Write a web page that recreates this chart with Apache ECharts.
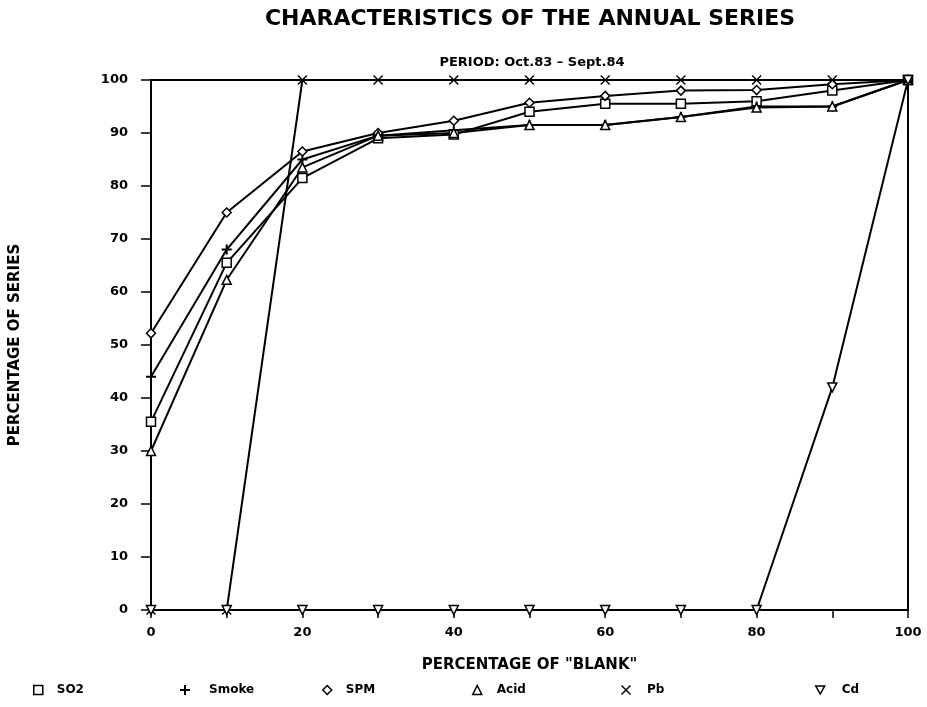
<!DOCTYPE html>
<html>
<head>
<meta charset="utf-8">
<script src="https://cdn.jsdelivr.net/npm/echarts@6/dist/echarts.min.js"></script>
<style>
  html, body { margin: 0; padding: 0; background: #fff; }
  #chart { width: 927px; height: 707px; }
</style>
</head>
<body>
<div id="chart"></div>
<script>
// Percentage of "blank" on the x axis
const blankPct = [0, 10, 20, 30, 40, 50, 60, 70, 80, 90, 100];

// Percentage of series for each pollutant
const so2   = [35.5, 65.5, 81.5, 89.0, 89.7, 94.0, 95.5, 95.5, 96.0, 98.0, 100];
const smoke = [44.0, 68.0, 85.0, 89.5, 90.5, 91.5, 91.5, 93.0, 95.0, 95.0, 100];
const spm   = [52.2, 75.0, 86.5, 90.0, 92.3, 95.7, 97.0, 98.0, 98.1, 99.2, 100];
const acid  = [30.0, 62.3, 83.5, 89.5, 90.0, 91.5, 91.5, 93.0, 94.8, 95.0, 100];
const pb    = [0, 0, 100, 100, 100, 100, 100, 100, 100, 100, 100];
const cd    = [0, 0, 0, 0, 0, 0, 0, 0, 0, 42, 100];

const seriesNames = ['SO2', 'Smoke', 'SPM', 'Acid', 'Pb', 'Cd'];

const FONT = 'DejaVu Sans';
const PLUS  = 'path://M4,0L6,0L6,4L10,4L10,6L6,6L6,10L4,10L4,6L0,6L0,4L4,4Z';
const CROSS = 'path://M0,1L1,0L5,4L9,0L10,1L6,5L10,9L9,10L5,6L1,10L0,9L4,5Z';
const DOWN  = 'path://M0,0L10,0L5,9Z';

const hollow = { color: '#fff', borderColor: '#000', borderWidth: 1.5 };
const solid = { color: '#000', borderColor: '#000', borderWidth: 0 };

const markers = {
  SO2:   { symbol: 'rect', size: 9, style: hollow },
  Smoke: { symbol: PLUS, size: 10, style: solid },
  SPM:   { symbol: 'diamond', size: 9, style: hollow },
  Acid:  { symbol: 'triangle', size: 9, style: hollow },
  Pb:    { symbol: CROSS, size: 10, style: solid },
  Cd:    { symbol: DOWN, size: 9, style: hollow }
};

const values = { SO2: so2, Smoke: smoke, SPM: spm, Acid: acid, Pb: pb, Cd: cd };

function pairs(ys) {
  return blankPct.map((x, i) => [x, ys[i]]);
}

const series = seriesNames.map(name => ({
  name: name,
  type: 'line',
  data: pairs(values[name]),
  symbol: markers[name].symbol,
  symbolSize: markers[name].size,
  showAllSymbol: true,
  clip: false,
  lineStyle: { color: '#000', width: 2 },
  itemStyle: markers[name].style,
  emphasis: { disabled: true },
  animation: false
}));

// One legend block per series so each entry sits at its own place in the row
const legendLeft = [28, 175, 317, 467, 616, 810];
const legendGap = [9, 14, 9, 10, 11, 12];
const legends = seriesNames.map((name, i) => ({
  left: legendLeft[i],
  top: 679,
  itemWidth: markers[name].size,
  itemHeight: markers[name].size,
  data: [{ name: name, icon: markers[name].symbol, itemStyle: markers[name].style }],
  textStyle: { fontFamily: FONT, fontWeight: 'bold', fontSize: 12, color: '#000', padding: [0, 0, 0, legendGap[i]] },
  selectedMode: false
}));

const chart = echarts.init(document.getElementById('chart'), null, { renderer: 'canvas' });
chart.setOption({
  backgroundColor: '#fff',
  animation: false,
  title: [
    {
      text: 'CHARACTERISTICS OF THE ANNUAL SERIES',
      left: 525, top: 3, textAlign: 'center',
      textStyle: { fontFamily: FONT, fontWeight: 'bold', fontSize: 22, color: '#000' }
    },
    {
      text: 'PERIOD: Oct.83 \u2013 Sept.84',
      left: 527, top: 51, textAlign: 'center',
      textStyle: { fontFamily: FONT, fontWeight: 'bold', fontSize: 13, color: '#000' }
    }
  ],
  legend: legends,
  grid: {
    left: 150, right: 19, top: 80, bottom: 97,
    show: true, borderColor: '#000', borderWidth: 2, backgroundColor: 'transparent'
  },
  xAxis: {
    type: 'value', min: 0, max: 100, interval: 10,
    name: 'PERCENTAGE OF "BLANK"', nameLocation: 'middle', nameGap: 48,
    nameTextStyle: { fontFamily: FONT, fontWeight: 'bold', fontSize: 15, color: '#000' },
    axisLine: { show: true, lineStyle: { color: '#000', width: 2 } },
    axisTick: { show: true, inside: false, length: 8, lineStyle: { color: '#000', width: 1.5 } },
    axisLabel: {
      margin: 16, color: '#000', fontFamily: FONT, fontWeight: 'bold', fontSize: 13,
      formatter: v => (v % 20 === 0 ? String(v) : '')
    },
    splitLine: { show: false }
  },
  yAxis: {
    type: 'value', min: 0, max: 100, interval: 10,
    name: 'PERCENTAGE OF SERIES', nameLocation: 'middle', nameGap: 128, nameRotate: 90,
    nameTextStyle: { fontFamily: FONT, fontWeight: 'bold', fontSize: 15, color: '#000' },
    axisLine: { show: true, lineStyle: { color: '#000', width: 2 } },
    axisTick: { show: true, inside: false, length: 10, lineStyle: { color: '#000', width: 1.5 } },
    axisLabel: { margin: 23, color: '#000', fontFamily: FONT, fontWeight: 'bold', fontSize: 13 },
    splitLine: { show: false }
  },
  series: series
});
</script>
</body>
</html>
